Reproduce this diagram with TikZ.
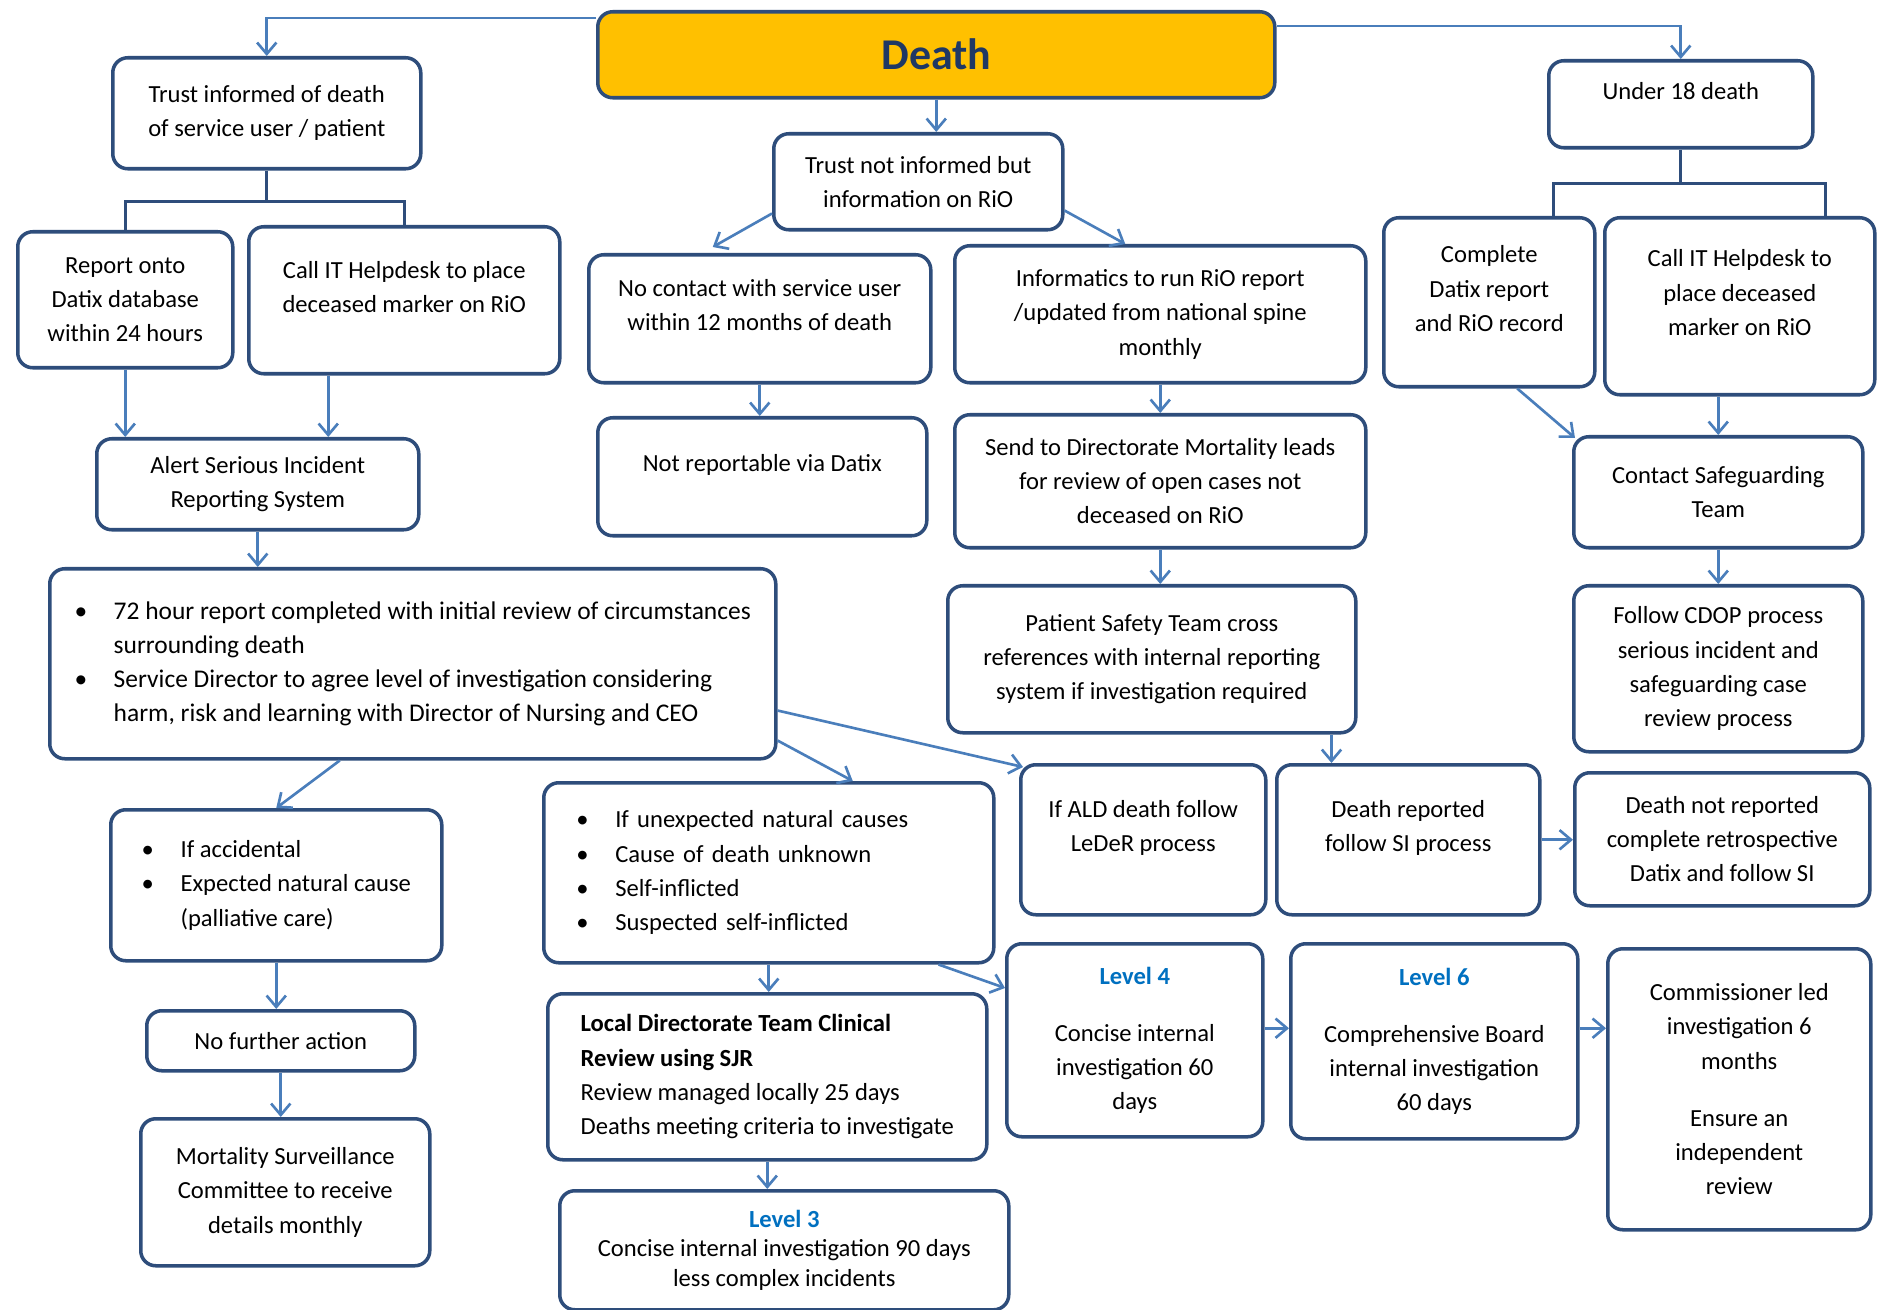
\documentclass[tikz,border=0pt]{standalone}
\usepackage{fontspec}
\setmainfont{Carlito}
\usetikzlibrary{arrows.meta}
\definecolor{boxline}{HTML}{2E4D7B}
\definecolor{arrowblue}{HTML}{4A7EBB}
\definecolor{levelblue}{HTML}{0070C0}
\definecolor{deathfill}{HTML}{FFC000}
\definecolor{deathtext}{HTML}{1F3864}
\newcommand{\px}{0.02cm}
\newcommand{\lift}{\\[-4pt]\mbox{}}
\newcommand{\bul}{\makebox[0.78cm][l]{\textbullet}}
\newcommand{\lvl}[1]{{\color{levelblue}\bfseries #1}}

\begin{document}
\begin{tikzpicture}[x=0.02cm, y=-0.02cm,
    box/.style={draw=boxline, line width=2pt, rounded corners=0.3cm, fill=white, anchor=north west, align=center, inner sep=2pt, font=\fontsize{14}{19.5}\selectfont},
    size/.style 2 args={minimum width=#1*\px, minimum height=#2*\px},
    list/.style 2 args={align=left, text width=#1, inner xsep=#2},
    arrow/.style={draw=arrowblue, line width=1.5pt, -{Straight Barb[length=6.5pt,width=11pt]}},
    tree/.style={draw=boxline, line width=1.9pt}]
    \path[use as bounding box, fill=white] (0,0) rectangle (1879,1310);

    % Top
    \node[box, size={677}{86}, fill=deathfill, text=deathtext, font=\fontsize{25}{30}\selectfont\bfseries] (death) at (596,10) {Death};

    % Left column
    \node[box, size={308}{111}] (trust-informed) at (111,56) {Trust informed of death\\of service user / patient};
    \node[box, size={215}{136}] (report-datix) at (16,230) {Report onto\\Datix database\\within 24 hours};
    \node[box, size={311}{147}] (call-it-left) at (247,225) {Call IT Helpdesk to place\\deceased marker on RiO\lift};
    \node[box, size={322}{91}] (alert) at (95,437) {Alert Serious Incident\\Reporting System};
    \node[box, size={726}{190}, align=left, font=\fontsize{14.5}{19.5}\selectfont] (report-72) at (48,567) {\bul 72 hour report completed with initial review of circumstances\\\hspace*{0.78cm}surrounding death\\\bul Service Director to agree level of investigation considering\\\hspace*{0.78cm}harm, risk and learning with Director of Nursing and CEO};
    \node[box, size={331}{151}, align=left] (accidental) at (109,808) {\bul If accidental\\\bul Expected natural cause\\\hspace*{0.78cm}(palliative care)};
    \node[box, size={268}{60}] (no-action) at (145,1009) {No further action};
    \node[box, size={289}{147}] (mortality) at (139,1117) {Mortality Surveillance\\Committee to receive\\details monthly};

    % Middle column
    \node[box, size={289}{96}] (not-informed) at (772,132) {Trust not informed but\\information on RiO};
    \node[box, size={342}{128}] (no-contact) at (587,253) {No contact with service user\\within 12 months of death\lift};
    \node[box, size={329}{118}] (not-reportable) at (596,416) {Not reportable via Datix\lift};
    \node[box, size={411}{137}] (informatics) at (953,244) {Informatics to run RiO report\\/updated from national spine\\monthly};
    \node[box, size={411}{133}] (send-mortality) at (953,413) {Send to Directorate Mortality leads\\for review of open cases not\\deceased on RiO};
    \node[box, size={408}{147}] (patient-safety) at (946,584) {Patient Safety Team cross\\references with internal reporting\\system if investigation required};
    \node[box, size={450}{180}, list={7.7cm}{0.6cm}] (unexpected) at (542,781) {\bul If unexpected natural causes\\\bul Cause of death unknown\\\bul Self-inflicted\\\bul Suspected self-inflicted};
    \node[box, size={439}{166}, align=left] (local-review) at (546,992) {\textbf{Local Directorate Team Clinical}\\\textbf{Review using SJR}\\Review managed locally 25 days\\Deaths meeting criteria to investigate};
    \node[box, size={449}{119}, font=\fontsize{14}{17}\selectfont] (level-3) at (558,1189) {\lvl{Level 3}\\Concise internal investigation 90 days\\less complex incidents};

    % Lower middle row
    \node[box, size={245}{150}] (leder) at (1019,763) {If ALD death follow\\LeDeR process\lift};
    \node[box, size={263}{150}] (si-process) at (1275,763) {Death reported\\follow SI process\lift};
    \node[box, size={256}{193}] (level-4) at (1005,942) {\lvl{Level 4}\\[13pt]Concise internal\\investigation 60\\days};
    \node[box, size={287}{195}] (level-6) at (1289,942) {\lvl{Level 6}\\[13pt]Comprehensive Board\\internal investigation\\60 days};

    % Right column
    \node[box, size={264}{87}] (under-18) at (1547,59) {Under 18 death\lift};
    \node[box, size={211}{169}] (complete-datix) at (1382,216) {Complete\\Datix report\\and RiO record\lift};
    \node[box, size={270}{177}] (call-it-right) at (1603,216) {Call IT Helpdesk to\\place deceased\\marker on RiO\lift};
    \node[box, size={289}{111}] (safeguarding) at (1572,435) {Contact Safeguarding\\Team};
    \node[box, size={289}{166}] (cdop) at (1572,584) {Follow CDOP process\\serious incident and\\safeguarding case\\review process};
    \node[box, size={295}{133}] (not-reported) at (1573,771) {Death not reported\\complete retrospective\\Datix and follow SI};
    \node[box, size={263}{281}] (commissioner) at (1606,947) {Commissioner led\\investigation 6\\months\\[13pt]Ensure an\\independent\\review};

    % Splits
    \draw[tree] (trust-informed.south) -- ++(0,31) coordinate (fork-left);
    \draw[tree] (report-datix.north) |- (fork-left) -| (call-it-left.north);
    \draw[tree] (under-18.south) -- ++(0,34) coordinate (fork-right);
    \draw[tree] ([xshift=64*\px]complete-datix.north) |- (fork-right) -| ([xshift=86*\px]call-it-right.north);

    % Arrows
    \draw[arrow] ([yshift=-8*\px]death.north west) -| (trust-informed.north);
    \draw[arrow] ([yshift=-16*\px]death.north east) -| (under-18.north);
    \draw[arrow] (death.south) -- (death.south |- not-informed.north);

    \draw[arrow] (report-datix.south) -- (report-datix.south |- alert.north);
    \draw[arrow] ([xshift=-76*\px]call-it-left.south) -- ([xshift=-76*\px]call-it-left.south |- alert.north);
    \draw[arrow] (alert.south) -- (alert.south |- report-72.north);
    \draw[arrow] ([xshift=-73*\px]report-72.south) -- (accidental.north);
    \draw[arrow] ([yshift=20*\px]report-72.south east) -- ([xshift=84*\px]unexpected.north);
    \draw[arrow] ([yshift=50*\px]report-72.south east) -- ([xshift=4*\px,yshift=-4*\px]leder.north west);
    \draw[arrow] (accidental.south) -- (accidental.south |- no-action.north);
    \draw[arrow] (no-action.south) -- (no-action.south |- mortality.north);

    \draw[arrow] ([yshift=18*\px]not-informed.south west) -- ([xshift=-47*\px,yshift=6*\px]no-contact.north);
    \draw[arrow] ([yshift=21*\px]not-informed.south east) -- ([xshift=-35*\px]informatics.north);
    \draw[arrow] (no-contact.south) -- (no-contact.south |- not-reportable.north);
    \draw[arrow] (informatics.south) -- (send-mortality.north);
    \draw[arrow] (send-mortality.south) -- (send-mortality.south |- patient-safety.north);
    \draw[arrow] ([xshift=-26*\px]patient-safety.south east) -- ([xshift=-26*\px]patient-safety.south east |- si-process.north);
    \draw[arrow] (si-process.east) -- (si-process.east -| not-reported.west);
    \draw[arrow] (unexpected.south) -- (unexpected.south |- local-review.north);
    \draw[arrow] ([xshift=-57*\px]unexpected.south east) -- ([yshift=-46*\px]level-4.north west);
    \draw[arrow] (local-review.south) -- (local-review.south |- level-3.north);
    \draw[arrow] ([yshift=12*\px]level-4.east) -- ([yshift=12*\px]level-4.east -| level-6.west);
    \draw[arrow] ([yshift=13*\px]level-6.east) -- ([yshift=13*\px]level-6.east -| commissioner.west);

    \draw[arrow] ([xshift=28*\px]complete-datix.south) -- ([xshift=3*\px,yshift=-3*\px]safeguarding.north west);
    \draw[arrow] (safeguarding.north |- call-it-right.south) -- (safeguarding.north);
    \draw[arrow] (safeguarding.south) -- (cdop.north);
\end{tikzpicture}
\end{document}
